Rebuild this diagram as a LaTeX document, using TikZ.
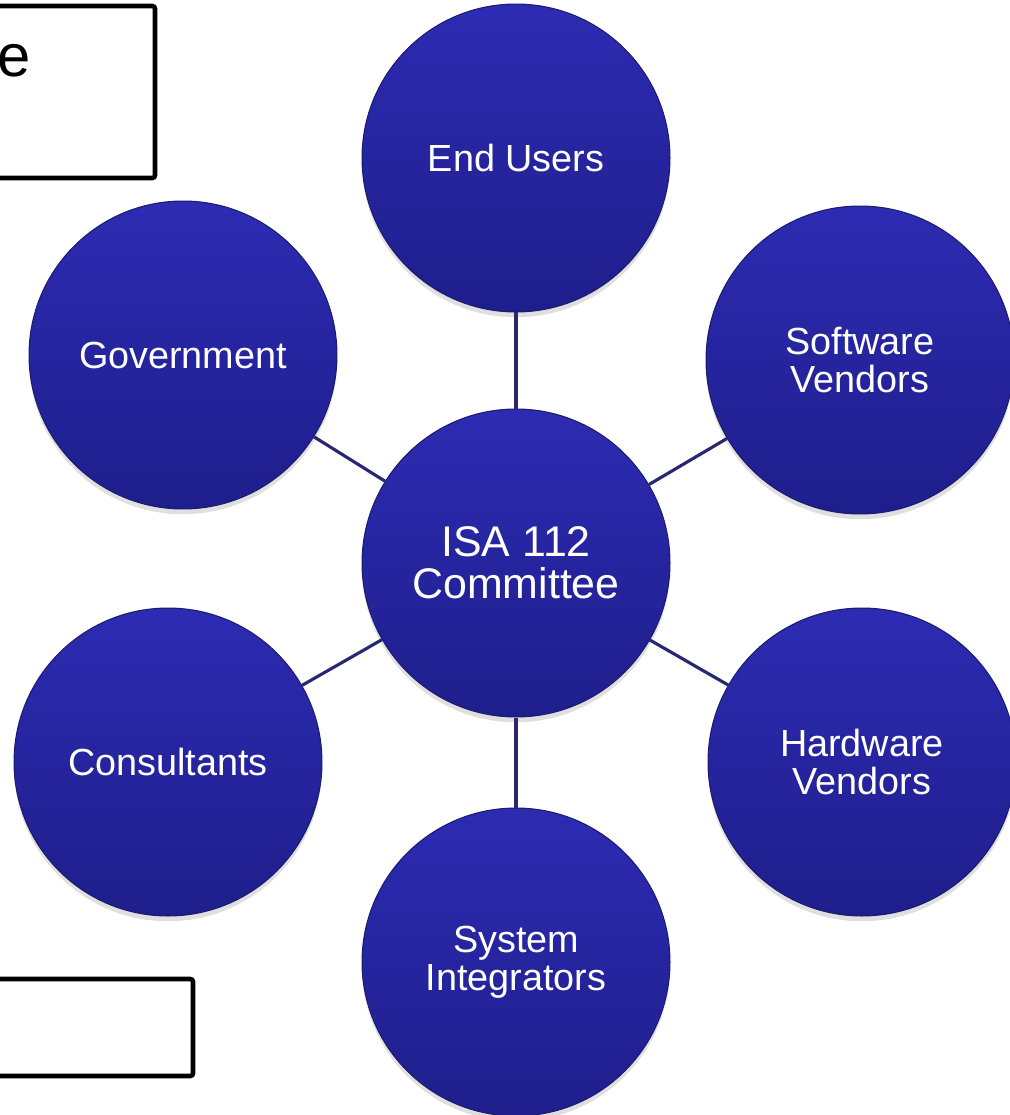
\documentclass[tikz,border=0pt]{standalone}
\usepackage{fontspec}
\setmainfont{Liberation Sans}
\usetikzlibrary{shadows}
\definecolor{blueTop}{RGB}{45,43,178}
\definecolor{blueBottom}{RGB}{30,30,140}
\definecolor{blueRim}{RGB}{28,28,110}
\definecolor{linkBlue}{RGB}{40,40,112}
\begin{document}
\begin{tikzpicture}[x=0.02cm,y=-0.02cm,
	member/.style={circle, minimum size=6.16cm, inner sep=0pt, align=center,
		shade, top color=blueTop, bottom color=blueBottom, draw=blueRim, line width=0.6pt,
		text=white, font=\fontsize{21.5}{21.5}\selectfont,
		drop shadow={opacity=0.25, shadow xshift=0pt, shadow yshift=-3pt}},
	hub/.style={member, font=\fontsize{24.4}{24}\selectfont},
	link/.style={draw=linkBlue, line width=1.8pt},
	frame/.style={draw=black, line width=2.6pt, rounded corners=1.5pt}]
	\useasboundingbox (0,0) rectangle (1009,1115);
	
	\draw[frame] (-20,6) rectangle (155,178);
	\draw[frame] (-20,979) rectangle (193,1076);
	\node[anchor=base east, font=\fontsize{34}{40}\selectfont, inner sep=0pt] (e) at (31,77) {e};
	
	\node[hub] (0) at (516,563) {ISA 112\\Committee};
	
	\node[member] (1) at (516,158) {End Users};
	\node[member] (2) at (860,360) {Software\\Vendors};
	\node[member] (3) at (862,762) {Hardware\\Vendors};
	\node[member] (4) at (516,962) {System\\Integrators};
	\node[member] (5) at (168,762) {Consultants};
	\node[member] (6) at (183,355) {Government};
	
	\foreach \i in {1,...,6}
		\path[link] (0) -- (\i);
\end{tikzpicture}
\end{document}
